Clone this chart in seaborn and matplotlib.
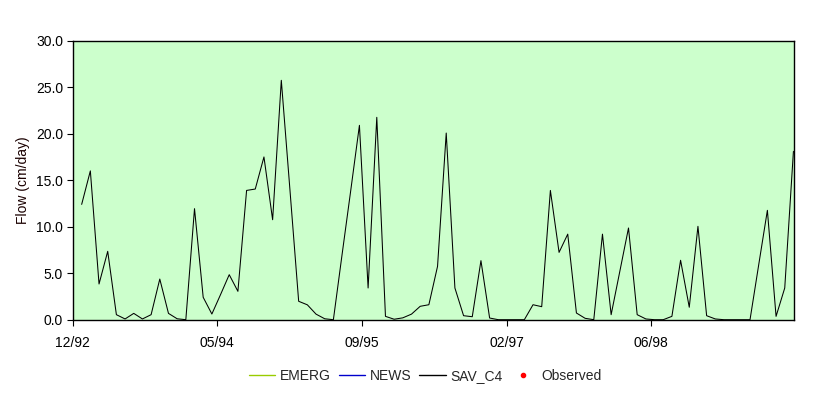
import numpy as np
import pandas as pd
import matplotlib
matplotlib.use("Agg")
import matplotlib.pyplot as plt
from matplotlib.lines import Line2D
import seaborn as sns

# ---- data ----
start_date = "1993-01-31"
n_points = 83
sav_c4 = [12.4, 16.0, 3.84, 7.35, 0.54, 0.08, 0.68, 0.08, 0.54, 4.37,
          0.68, 0.1, 0.0, 11.94, 2.41, 0.61, 2.7, 4.84, 3.05, 13.9,
          14.05, 17.5, 10.75, 25.74, 13.9, 1.98, 1.6, 0.6, 0.1, 0.0,
          7.0, 13.9, 20.9, 3.41, 21.76, 0.36, 0.05, 0.2, 0.6, 1.44,
          1.61, 5.74, 20.07, 3.41, 0.43, 0.32, 6.35, 0.18, 0.0, 0.0,
          0.0, 0.0, 1.61, 1.4, 13.9, 7.24, 9.2, 0.72, 0.15, 0.0,
          9.2, 0.54, 5.2, 9.86, 0.54, 0.08, 0.0, 0.0, 0.36, 6.39,
          1.34, 10.04, 0.43, 0.08, 0.0, 0.0, 0.0, 0.0, 5.9, 11.76,
          0.36, 3.41, 18.1]
series_names = ["EMERG", "NEWS", "SAV_C4", "Observed"]
series_colors = ["#99cc00", "#0000cc", "#000000", "#ff0000"]
tick_dates = ["1992-12-31", "1994-05-15", "1995-09-27", "1997-02-08", "1998-06-23"]
tick_labels = ["12/92", "05/94", "09/95", "02/97", "06/98"]
y_ticks = [0, 5, 10, 15, 20, 25, 30]

dates = pd.date_range(start_date, periods=n_points, freq="30D")
df = pd.DataFrame({"date": dates, "flow": sav_c4})

sns.set_theme(style="white")
plt.rcParams["font.family"] = ["Liberation Sans", "DejaVu Sans"]

fig = plt.figure(figsize=(8.3, 3.97), dpi=100)
ax = fig.add_axes([72.7 / 830, 1 - 319.7 / 397, (794 - 72.7) / 830, (319.7 - 40.7) / 397])
ax.set_facecolor("#ccffcc")

sns.lineplot(data=df, x="date", y="flow", ax=ax, color="black", linewidth=0.75)

ax.set_xlim(pd.Timestamp("1992-12-31"), pd.Timestamp("1999-10-29"))
ax.set_ylim(0, 30)
ax.set_xticks([pd.Timestamp(d) for d in tick_dates])
ax.set_xticklabels(tick_labels)
ax.set_yticks(y_ticks)
ax.set_yticklabels([f"{v:.1f}" for v in y_ticks])
ax.set_xlabel("")
ax.set_ylabel("Flow (cm/day)", fontsize=10, color="#1a0000", labelpad=4)

for s in ax.spines.values():
    s.set_color("black")
    s.set_linewidth(1.0)
ax.tick_params(axis="both", direction="out", length=4, width=0.8, colors="black",
               labelsize=10, pad=3, left=True, bottom=True)
ax.tick_params(axis="x", pad=8)

handles = [
    Line2D([], [], color=series_colors[0], lw=1.0),
    Line2D([], [], color=series_colors[1], lw=1.0),
    Line2D([], [], color=series_colors[2], lw=1.0),
    Line2D([], [], color=series_colors[3], lw=0, marker="o", markersize=3),
]
fig.legend(handles, series_names, loc="center", bbox_to_anchor=(425.3 / 830, 1 - 376 / 397),
           ncol=4, frameon=False, fontsize=10, handlelength=1.9, handletextpad=0.35,
           columnspacing=0.55)

fig.savefig("out.png", dpi=100, facecolor="white")
